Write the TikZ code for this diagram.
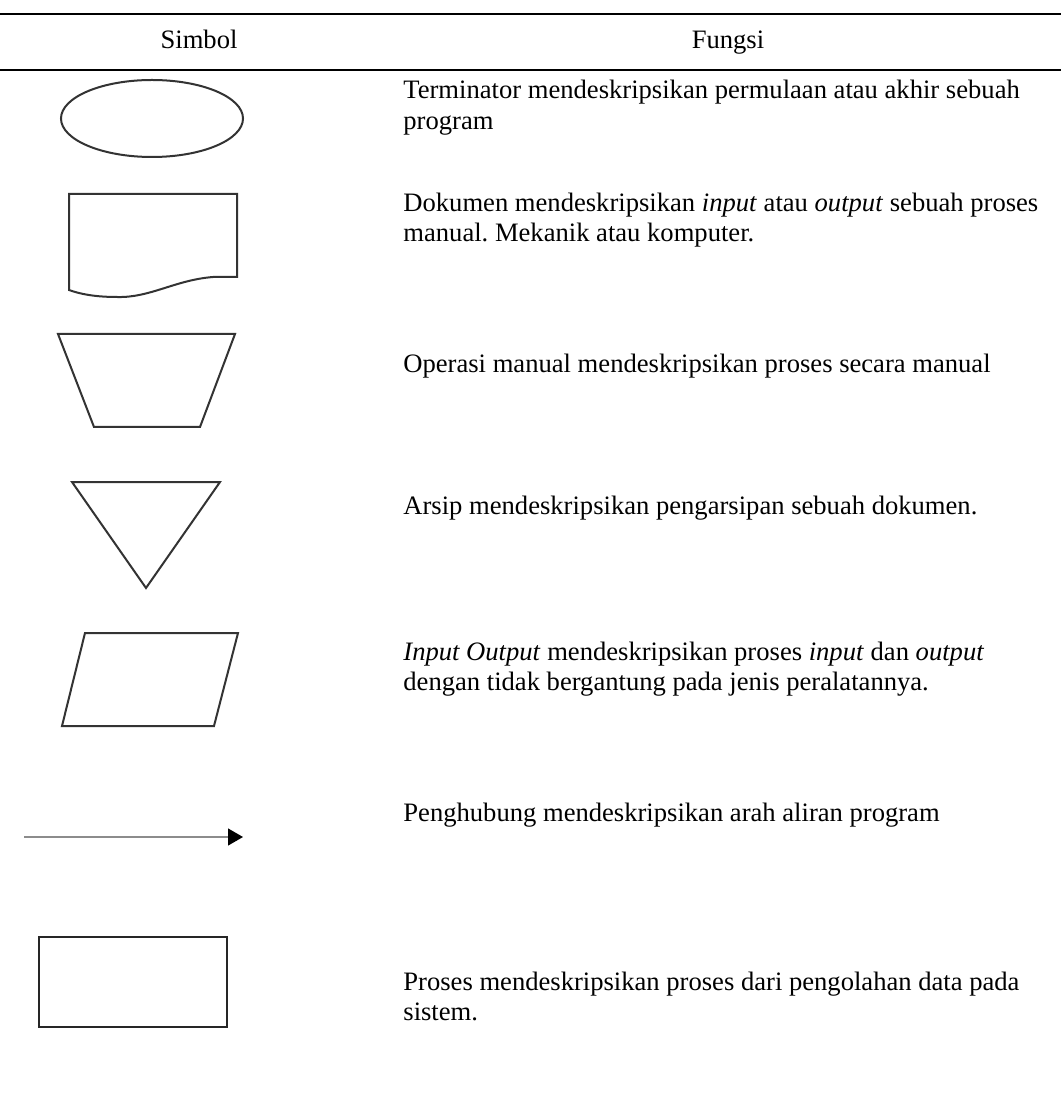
\documentclass[tikz,border=0pt]{standalone}
\usepackage{fontspec}
\setmainfont{Liberation Serif}
\usetikzlibrary{arrows.meta}
\frenchspacing
\begin{document}
\begin{tikzpicture}[x=0.5pt,y=-0.5pt,
  rulebar/.style={line width=1pt,black},
  symb/.style={line width=1pt,draw=black!80,line join=miter},
  desc/.style={anchor=base west,inner sep=0pt,font=\fontsize{13.3pt}{15pt}\selectfont},
  head/.style={anchor=base,inner sep=0pt,font=\fontsize{13.3pt}{15pt}\selectfont}]
\useasboundingbox (0,0) rectangle (1061,1095);
\fill[white] (0,0) rectangle (1061,1095);

% table rules
\draw[rulebar] (0,14) -- (1061,14);
\draw[rulebar] (0,70) -- (1061,70);

% header
\node[head] (hsimbol) at (199,49) {Simbol};
\node[head] (hfungsi) at (728,49) {Fungsi};

% terminator
\draw[symb] (152,118.5) ellipse [x radius=91,y radius=38.5];
% document
\draw[symb] (69,194) -- (237,194) -- (237,277) -- (213,277)
  .. controls (175,280) and (150,298) .. (117,297)
  .. controls (95,297) and (80,294) .. (69,290) -- cycle;
% manual operation
\draw[symb] (58,334) -- (235,334) -- (200,427) -- (94,427) -- cycle;
% archive
\draw[symb] (72,482) -- (220,482) -- (146,588) -- cycle;
% input / output
\draw[symb] (85,633) -- (238,633) -- (214,726) -- (62,726) -- cycle;
% connector
\coordinate (aStart) at (24,837);
\coordinate (aEnd) at (243,837);
\draw[line width=0.6pt,draw=black!45,-{Triangle[length=7.5pt,width=8.5pt,color=black]}] (aStart) -- (aEnd);
% process
\draw[line width=1pt,draw=black!85] (39,937) rectangle (227,1027);

% descriptions
\node[desc] (t1a) at (403,99) {Terminator mendeskripsikan permulaan atau akhir sebuah};
\node[desc] (t1b) at (403,130) {program};
\node[desc] (t2a) at (403,212) {Dokumen mendeskripsikan \textit{input} atau \textit{output} sebuah proses};
\node[desc] (t2b) at (403,242) {manual. Mekanik atau komputer.};
\node[desc] (t3) at (403,373) {Operasi manual mendeskripsikan proses secara manual};
\node[desc] (t4) at (403,514) {Arsip mendeskripsikan pengarsipan sebuah dokumen.};
\node[desc] (t5a) at (403,660) {\textit{Input Output} mendeskripsikan proses \textit{input} dan \textit{output}};
\node[desc] (t5b) at (403,690) {dengan tidak bergantung pada jenis peralatannya.};
\node[desc] (t6) at (403,821) {Penghubung mendeskripsikan arah aliran program};
\node[desc] (t7a) at (403,990) {Proses mendeskripsikan proses dari pengolahan data pada};
\node[desc] (t7b) at (403,1020) {sistem.};
\end{tikzpicture}
\end{document}
